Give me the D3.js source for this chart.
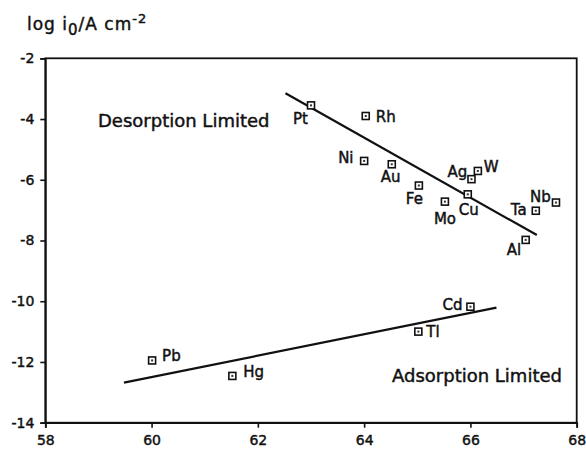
<!DOCTYPE html>
<html><head><meta charset="utf-8">
<script src="https://cdn.jsdelivr.net/npm/d3@7"></script>
<style>
body{margin:0;background:#fff;}
text{font-family:"DejaVu Sans",sans-serif;fill:#111;stroke:#111;stroke-width:0.45px;}
</style></head>
<body><svg id="c" width="586" height="449"></svg>
<script>
// Data
const metals = ["Pt","Rh","Ni","Au","Fe","Mo","Cu","Ag","W","Ta","Nb","Al","Cd","Tl","Pb","Hg"];
const xVals  = [63.0,64.03,64.0,64.52,65.03,65.52,65.95,66.02,66.14,67.23,67.61,67.04,66.0,65.02,60.01,61.52];
const yVals  = [-3.55,-3.9,-5.38,-5.49,-6.19,-6.72,-6.48,-5.98,-5.71,-7.02,-6.75,-7.98,-10.18,-11.0,-11.95,-12.46];
// label offsets (px) relative to point: dx, dy(baseline)
const labelDx = [-18,10,-26,-11,-13,-11,-9,-24,6,-25,-26,-19,-28,8,10,11];
const labelDy = [19,6,2,18,18,22,21,-2,1,4,-1,15,3,5,1,1];
const desorptionLine = {x:[62.52,67.25], y:[-3.15,-7.82]};
const adsorptionLine = {x:[59.48,66.49], y:[-12.68,-10.21]};
const xTicks = [58,60,62,64,66,68];
const yTicks = [-2,-4,-6,-8,-10,-12,-14];

const svg = d3.select("#c");
const L=45.3, R=576.7, T=58.3, B=422.7;
const x = d3.scaleLinear().domain([58,68]).range([L,R]);
const y = d3.scaleLinear().domain([-14,-2]).range([B,T]);

// frame
svg.append("rect").attr("x",L).attr("y",T).attr("width",R-L).attr("height",B-T)
  .attr("fill","none").attr("stroke","#111").attr("stroke-width",1.8);

const xa = svg.append("g").attr("transform",`translate(0,${B})`)
  .call(d3.axisBottom(x).tickValues(xTicks).tickSize(5).tickPadding(7).tickFormat(d3.format("d")));
const ya = svg.append("g").attr("transform",`translate(${L},0)`)
  .call(d3.axisLeft(y).tickValues(yTicks).tickSize(5).tickPadding(6).tickFormat(d=>d<0?"-"+Math.abs(d):d));
[xa,ya].forEach(a=>{
  a.select(".domain").attr("stroke","#111").attr("stroke-width",1.8);
  a.selectAll(".tick line").attr("stroke","#111").attr("stroke-width",1.6);
  a.selectAll(".tick text").style("font-family","'DejaVu Sans',sans-serif").style("font-size","14px")
    .attr("fill","#111").attr("stroke","#111").attr("stroke-width",0.6);
});

// regression lines
const line = d3.line().x(d=>x(d[0])).y(d=>y(d[1]));
[desorptionLine,adsorptionLine].forEach(l=>{
  svg.append("path").datum(d3.zip(l.x,l.y)).attr("d",line)
    .attr("fill","none").attr("stroke","#111").attr("stroke-width",2.2);
});

// points
const pts = metals.map((m,i)=>({m,x:xVals[i],y:yVals[i],dx:labelDx[i],dy:labelDy[i]}));
const g = svg.append("g");
g.selectAll("rect.pt").data(pts).join("rect").attr("class","pt")
  .attr("x",d=>x(d.x)-3.5).attr("y",d=>y(d.y)-3.5).attr("width",7).attr("height",7)
  .attr("fill","#fff").attr("stroke","#111").attr("stroke-width",1.6);
g.selectAll("rect.dot").data(pts).join("rect").attr("class","dot")
  .attr("x",d=>x(d.x)-1).attr("y",d=>y(d.y)-1).attr("width",2).attr("height",2)
  .attr("fill","#333");
g.selectAll("text.lab").data(pts).join("text").attr("class","lab")
  .attr("x",d=>x(d.x)+d.dx).attr("y",d=>y(d.y)+d.dy)
  .style("font-size","15px").text(d=>d.m);

// region labels
svg.append("text").attr("x",98).attr("y",127).style("font-size","18px").text("Desorption Limited");
svg.append("text").attr("x",392).attr("y",382).style("font-size","18px").text("Adsorption Limited");

// y title
const t = svg.append("text").attr("x",27).attr("y",30).style("font-size","17px").style("letter-spacing","1px");
t.append("tspan").text("log i");
t.append("tspan").attr("dy",5).style("font-size","15px").text("0");
t.append("tspan").attr("dy",-5).text("/A cm");
t.append("tspan").attr("dy",-7).style("font-size","13px").text("-2");
</script></body></html>
